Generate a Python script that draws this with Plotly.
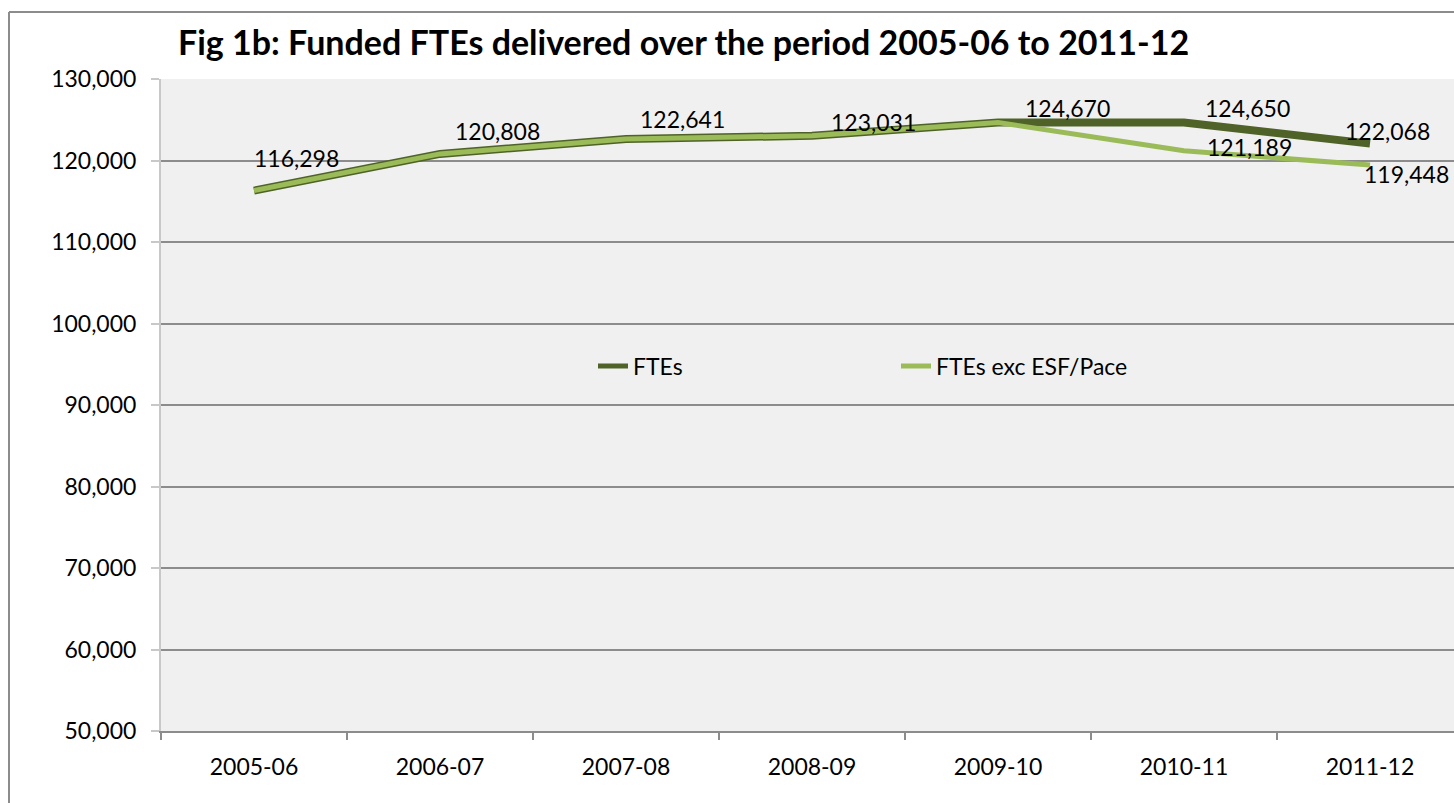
import plotly.graph_objects as go

categories = ["2005-06", "2006-07", "2007-08", "2008-09", "2009-10", "2010-11", "2011-12"]
ftes = [116298, 120808, 122641, 123031, 124670, 124650, 122068]
ftes_exc = [116298, 120808, 122641, 123031, 124670, 121189, 119448]
y_ticks = [50000, 60000, 70000, 80000, 90000, 100000, 110000, 120000, 130000]

# label offsets in pixels (dx, dy-up)
ftes_label_offsets = [(42, 33), (57, 23), (56, 20), (61, 14), (69, 14), (63, 15), (17, 13)]
exc_label_idx = [5, 6]
exc_label_offsets = [(65, 4), (36, -9)]

DARK = "#4f6228"
LIGHT = "#9bbb59"
FONT = "Lato"

W, H = 1454, 803
L, R, T, B = 161, 0, 79, 72
plot_w = W - L - R
plot_h = H - T - B
cat_px = 186.0

fig = go.Figure()
fig.add_trace(go.Scatter(x=categories, y=ftes, mode="lines", name="FTEs",
                         line=dict(color=DARK, width=8), hoverinfo="skip"))
fig.add_trace(go.Scatter(x=categories, y=ftes_exc, mode="lines", name="FTEs exc ESF/Pace",
                         line=dict(color=LIGHT, width=5), hoverinfo="skip"))

annotations = []
for i, (v, (dx, dy)) in enumerate(zip(ftes, ftes_label_offsets)):
    annotations.append(dict(x=categories[i], y=v, xref="x", yref="y", text=f"{v:,}",
                            showarrow=False, xshift=dx, yshift=dy,
                            font=dict(family=FONT, size=23, color="black")))
for i, (dx, dy) in zip(exc_label_idx, exc_label_offsets):
    v = ftes_exc[i]
    annotations.append(dict(x=categories[i], y=v, xref="x", yref="y", text=f"{v:,}",
                            showarrow=False, xshift=dx, yshift=dy,
                            font=dict(family=FONT, size=23, color="black")))

def px_x(px):
    return (px - L) / plot_w

def px_y(py):
    return (H - B - py) / plot_h

shapes = [
    dict(type="line", xref="paper", yref="paper", x0=px_x(9), x1=px_x(9), y0=px_y(12), y1=px_y(H + 5),
         line=dict(color="#8c8c8c", width=2)),
    dict(type="line", xref="paper", yref="paper", x0=px_x(9), x1=px_x(W + 5), y0=px_y(12), y1=px_y(12),
         line=dict(color="#8c8c8c", width=2)),
]

fig.update_layout(
    width=W, height=H,
    margin=dict(l=L, r=R, t=T, b=B, pad=0),
    paper_bgcolor="white",
    plot_bgcolor="#f0f0f0",
    font=dict(family=FONT, size=23, color="black"),
    title=dict(text="<b>Fig 1b: Funded FTEs delivered over the period 2005-06 to 2011-12</b>",
               x=178 / W, xanchor="left", xref="container",
               y=1 - 43 / H, yanchor="middle", yref="container",
               font=dict(family=FONT, size=34, color="black")),
    showlegend=True,
    legend=dict(orientation="h", x=px_x(593), xanchor="left", y=px_y(366), yanchor="middle",
                bgcolor="rgba(0,0,0,0)", font=dict(family=FONT, size=23, color="black"),
                entrywidth=258, entrywidthmode="pixels", itemsizing="constant"),
    annotations=annotations,
    shapes=shapes,
)

fig.update_xaxes(type="category", range=[-0.5, 6.5 - (cat_px * 7 - plot_w) / cat_px],
                 tickson="boundaries", ticks="outside", ticklen=7, tickwidth=2, tickcolor="#8c8c8c",
                 showline=True, linecolor="#8c8c8c", linewidth=2, showgrid=False,
                 ticklabelstandoff=14, tickfont=dict(family=FONT, size=23, color="black"))
fig.update_yaxes(range=[50000, 130000], tickvals=y_ticks, tickformat=",",
                 ticks="outside", ticklen=8, tickwidth=2, tickcolor="#c8c8c8",
                 showline=True, linecolor="#c8c8c8", linewidth=2,
                 showgrid=True, gridcolor="#8c8c8c", gridwidth=1.5, zeroline=False,
                 ticklabelstandoff=10, tickfont=dict(family=FONT, size=23, color="black"))

fig.write_html("out.html", config={"displayModeBar": False},
               post_script="document.body.style.margin='0';document.body.style.overflow='hidden';")
